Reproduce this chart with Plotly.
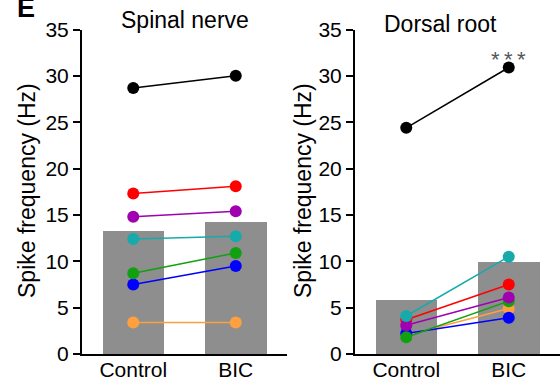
import plotly.graph_objects as go

categories = ["Control", "BIC"]
series_names = ["black", "orange", "blue", "red", "green", "purple", "cyan"]
series_colors = ["#000000", "#ffa040", "#0000ff", "#ff0000", "#10a010", "#a000b0", "#17aaaa"]

# Spinal nerve (values per cell: Control, BIC) in same order as series_names
spinal_control = [28.7, 3.4, 7.5, 17.3, 8.7, 14.8, 12.4]
spinal_bic = [30.0, 3.4, 9.5, 18.1, 10.9, 15.4, 12.7]
spinal_bars = [13.3, 14.3]

# Dorsal root
dorsal_control = [24.4, 2.0, 2.2, 3.7, 1.8, 3.1, 4.1]
dorsal_bic = [30.9, 4.9, 3.9, 7.5, 5.7, 6.1, 10.5]
dorsal_bars = [5.9, 10.0]

panel_titles = ["Spinal nerve", "Dorsal root"]
y_title = "Spike frequency (Hz)"
y_ticks = [0, 5, 10, 15, 20, 25, 30, 35]
sig_label = "*\u2009*\u2009*"

FONT = "Liberation Sans, Arial, sans-serif"
W, H = 560, 383

fig = go.Figure()

panels = [
    ("x", "y", spinal_control, spinal_bic, spinal_bars),
    ("x2", "y2", dorsal_control, dorsal_bic, dorsal_bars),
]
for xa, ya, ctrl, bic, bars in panels:
    fig.add_trace(go.Bar(x=categories, y=bars, xaxis=xa, yaxis=ya, width=0.6,
                         marker=dict(color="#8e8e8e", line=dict(width=0)),
                         showlegend=False, hoverinfo="skip"))
    for i, c in enumerate(series_colors):
        fig.add_trace(go.Scatter(x=categories, y=[ctrl[i], bic[i]], xaxis=xa, yaxis=ya,
                                 mode="lines+markers",
                                 line=dict(color=c, width=1.5),
                                 marker=dict(color=c, size=12, line=dict(width=0)),
                                 showlegend=False, name=series_names[i]))

ydom = [(H - 354) / H, (H - 29.5) / H]
common_x = dict(range=[-0.5, 1.5], showline=True, linecolor="black", linewidth=2,
                ticks="", showgrid=False, zeroline=False, automargin=False,
                ticklabelstandoff=-4,
                tickfont=dict(family=FONT, size=21, color="black"), fixedrange=True)
common_y = dict(range=[0, 35], tickvals=y_ticks, showline=True, linecolor="black", linewidth=2,
                ticks="outside", ticklen=7, tickwidth=2, tickcolor="black",
                showgrid=False, zeroline=False, automargin=False, domain=ydom,
                tickfont=dict(family=FONT, size=21, color="black"), fixedrange=True)

fig.update_layout(
    width=W, height=H,
    margin=dict(l=0, r=0, t=0, b=0),
    paper_bgcolor="white", plot_bgcolor="white",
    bargap=0,
    xaxis=dict(domain=[82 / W, 287 / W], anchor="y", **common_x),
    yaxis=dict(anchor="x", **common_y),
    xaxis2=dict(domain=[355 / W, 1.0], anchor="y2", **common_x),
    yaxis2=dict(anchor="x2", **common_y),
    font=dict(family=FONT, color="black"),
)

def px(x, y):
    return dict(x=x / W, y=1 - y / H, xref="paper", yref="paper",
                xanchor="center", yanchor="middle", showarrow=False)

ann = []
ann.append(dict(text=panel_titles[0], font=dict(size=23, family=FONT, color="black"), **px(184.5, 20)))
ann.append(dict(text=panel_titles[1], font=dict(size=23, family=FONT, color="black"), **px(440, 24)))
for xc in (27, 303):
    ann.append(dict(text=y_title, textangle=-90,
                    font=dict(size=23, family=FONT, color="black"), **px(xc, 191)))
ann.append(dict(text="<b>E</b>", font=dict(size=27, family=FONT, color="black"), **px(26, 8)))
ann.append(dict(text=sig_label, x="BIC", y=dorsal_bic[0], xref="x2", yref="y2",
                xanchor="center", yanchor="middle",
                yshift=8, showarrow=False, font=dict(size=22, family=FONT, color="#555555")))
fig.update_layout(annotations=ann)

fig.write_html("out.html", config={"displayModeBar": False},
               post_script="document.body.style.margin='0';document.body.style.padding='0';")
